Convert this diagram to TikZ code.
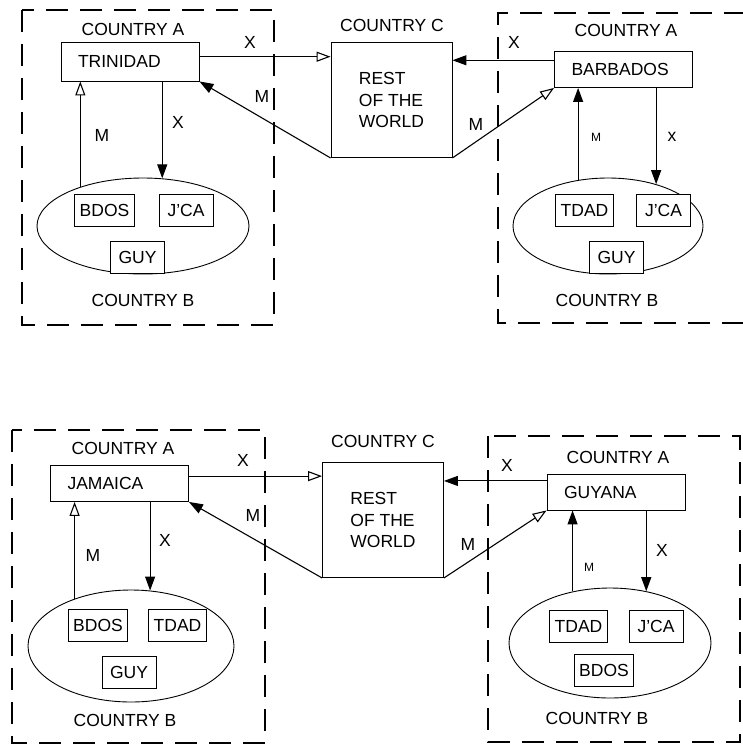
\documentclass[tikz,border=0pt]{standalone}
\usepackage{fontspec}
\setmainfont{Liberation Sans}
\usetikzlibrary{shapes.geometric,arrows.meta,calc}

\begin{document}
\begin{tikzpicture}[x=1pt, y=-1pt,
  font=\fontsize{17.5}{21.5}\selectfont,
  cbox/.style={draw, line width=0.9pt, text width=104pt, inner xsep=17pt, minimum height=36pt, align=left},
  sbox/.style={draw, fill=white, line width=0.9pt, minimum width=54pt, minimum height=32pt, inner xsep=5pt},
  world/.style={draw, line width=0.9pt, minimum width=121pt, minimum height=115pt, align=left},
  bloc/.style={draw, ellipse, line width=0.9pt, inner sep=0pt},
  border/.style={line width=1.4pt, dash pattern=on 22pt off 12pt},
  flow/.style={line width=1.1pt, -{Triangle[length=14pt, width=10pt]}},
  oflow/.style={line width=1.1pt, -{Triangle[open, length=14pt, width=10pt]}},
  lbl/.style={inner sep=1pt},
  small/.style={inner sep=1pt, font=\fontsize{12}{14}\selectfont}
]

\useasboundingbox (0,0) rectangle (742,747);

%% upper panel : trinidad and barbados
\draw[border] (22,10) rectangle (274,325);
\draw[border] (746,13) -- (498,13) -- (498,323) -- (746,323);

\node (cAtri) at (133,29) {COUNTRY A};
\node[cbox, minimum height=39pt] (tri) at (130,61.5) {TRINIDAD};
\node (cCtop) at (392,25) {COUNTRY C};
\node[world] (rowTop) at (391.5,100) {REST\\OF THE\\WORLD};
\node (cAbar) at (626,30) {COUNTRY A};
\node[cbox] (bar) at (623.5,69.5) {BARBADOS};

%% country b of trinidad
\node[bloc, minimum width=212pt, minimum height=96pt] (ellTri) at (143,226) {};
\node[sbox] (bdosT) at (104.5,210) {BDOS};
\node[sbox] (jcaT) at (186,210) {J'CA};
\node[sbox] (guyT) at (137.5,257) {GUY};
\node (cBtri) at (143,300) {COUNTRY B};

%% country b of barbados
\node[bloc, minimum width=190pt, minimum height=96pt] (ellBar) at (608,226) {};
\node[sbox] (tdadB) at (584.5,210) {TDAD};
\node[sbox] (jcaB) at (663.5,210) {J'CA};
\node[sbox] (guyB) at (616.5,257) {GUY};
\node (cBbar) at (607,300) {COUNTRY B};

%% flows of the upper panel
\coordinate (triX) at ($(tri.north east)!0.38!(tri.south east)$);
\coordinate (barX) at ($(bar.north west)!0.25!(bar.south west)$);
\draw[oflow] (triX) -- (triX -| rowTop.west);
\draw[flow] (rowTop.south west) -- (tri.south east);
\draw[oflow] (ellTri.148) -- (ellTri.148 |- tri.south);
\draw[flow] (ellTri.68 |- tri.south) -- (ellTri.68);
\draw[flow] (barX) -- (barX -| rowTop.east);
\draw[oflow] (rowTop.south east) -- (bar.south west);
\draw[flow] (ellBar.123) -- (ellBar.123 |- bar.south);
\draw[flow] (ellBar.41 |- bar.south) -- (ellBar.41);

\node[lbl] (xTriRow) at (250,42) {X};
\node[lbl] (mRowTri) at (262,96) {M};
\node[lbl] (mTriB) at (102,135) {M};
\node[lbl] (xTriB) at (178,122) {X};
\node[lbl] (xBarRow) at (514,42) {X};
\node[lbl] (mRowBar) at (476,124) {M};
\node[small] (mBarB) at (596,137) {M};
\node[lbl] (xBarB) at (672,137) {x};

%% lower panel : jamaica and guyana
\draw[border] (12,430) rectangle (265,743);
\draw[border] (488,436) rectangle (740,742);

\node (cAjam) at (123,448) {COUNTRY A};
\node[cbox] (jam) at (119.5,483.5) {JAMAICA};
\node (cCbot) at (383,441) {COUNTRY C};
\node[world] (rowBot) at (383,520) {REST\\OF THE\\WORLD};
\node (cAguy) at (618,457) {COUNTRY A};
\node[cbox] (guy) at (616,492) {GUYANA};

%% country b of jamaica
\node[bloc, minimum width=206pt, minimum height=112pt] (ellJam) at (131,646) {};
\node[sbox] (bdosJ) at (98,625.5) {BDOS};
\node[sbox] (tdadJ) at (177.5,625.5) {TDAD};
\node[sbox] (guyJ) at (129,672.5) {GUY};
\node (cBjam) at (125,720) {COUNTRY B};

%% country b of guyana
\node[bloc, minimum width=202pt, minimum height=110pt] (ellGuy) at (610,643) {};
\node[sbox] (tdadG) at (578.5,626) {TDAD};
\node[sbox] (jcaG) at (656,626) {J'CA};
\node[sbox] (bdosG) at (604,670.5) {BDOS};
\node (cBguy) at (597,718) {COUNTRY B};

%% flows of the lower panel
\coordinate (jamX) at ($(jam.north east)!0.3!(jam.south east)$);
\coordinate (guyX) at ($(guy.north west)!0.2!(guy.south west)$);
\draw[oflow] (jamX) -- (jamX -| rowBot.west);
\draw[flow] (rowBot.south west) -- (jam.south east);
\draw[oflow] (ellJam.140) -- (ellJam.140 |- jam.south);
\draw[flow] (ellJam.71 |- jam.south) -- (ellJam.71);
\draw[flow] (guyX) -- (guyX -| rowBot.east);
\draw[oflow] (rowBot.south east) -- (guy.south west);
\draw[flow] (ellGuy.126) -- (ellGuy.126 |- guy.south);
\draw[flow] (ellGuy.55 |- guy.south) -- (ellGuy.55);

\node[lbl] (xJamRow) at (243,460) {X};
\node[lbl] (mRowJam) at (253,515) {M};
\node[lbl] (mJamB) at (93,555) {M};
\node[lbl] (xJamB) at (165,540) {X};
\node[lbl] (xGuyRow) at (507,465) {X};
\node[lbl] (mRowGuy) at (468,544) {M};
\node[small] (mGuyB) at (589,567) {M};
\node[lbl] (xGuyB) at (662,550) {X};

\end{tikzpicture}
\end{document}
